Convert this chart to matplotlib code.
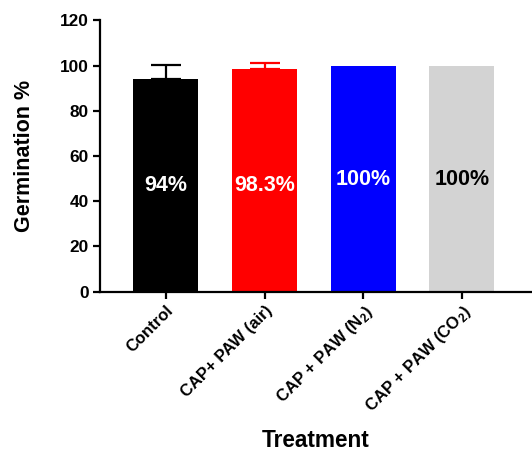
import matplotlib
matplotlib.use('Agg')
import matplotlib.pyplot as plt

plt.rcParams['font.family'] = ['Liberation Sans', 'DejaVu Sans']
plt.rcParams['font.weight'] = 'bold'
plt.rcParams['mathtext.fontset'] = 'custom'
plt.rcParams['mathtext.rm'] = 'Liberation Sans'
plt.rcParams['mathtext.it'] = 'Liberation Sans:italic'
plt.rcParams['mathtext.bf'] = 'Liberation Sans:bold'

treatments = ['Control', 'CAP+ PAW (air)', r'CAP + PAW (N$_2$)', r'CAP + PAW (CO$_2$)']
germination = [94.0, 98.3, 100.0, 100.0]
error_up = [6.5, 3.0, 0.0, 0.0]
bar_labels = ['94%', '98.3%', '100%', '100%']
bar_colors = ['#000000', '#ff0000', '#0000ff', '#d3d3d3']
text_colors = ['white', 'white', 'white', 'black']
label_y = [47, 47, 49.5, 49.5]

fig = plt.figure(figsize=(5.32, 4.54), dpi=100)
ax = fig.add_axes([0.188, 0.3575, 0.812, 0.5975])

x = list(range(len(treatments)))
ax.bar(x, germination, width=0.66, color=bar_colors, zorder=2)
for i in x:
    if error_up[i] > 0:
        ax.errorbar(i, germination[i], yerr=[[0], [error_up[i]]], fmt='none',
                    ecolor=bar_colors[i], elinewidth=1.6, capsize=11, capthick=1.6, zorder=1)
    ax.text(i, label_y[i], bar_labels[i], ha='center', va='center',
            color=text_colors[i], fontsize=15.5, fontweight='bold', zorder=3)

ax.set_xlim(-0.667, 3.711)
ax.set_ylim(0, 120)
ax.set_yticks([0, 20, 40, 60, 80, 100, 120])
ax.set_xticks(x)
ax.set_xticklabels(treatments, rotation=45, ha='right', rotation_mode='anchor',
                   fontsize=12, fontweight='bold')
for lbl in ax.get_yticklabels():
    lbl.set_fontsize(12.4)
    lbl.set_fontweight('bold')

ax.spines['top'].set_visible(False)
ax.spines['right'].set_visible(False)
ax.spines['left'].set_linewidth(1.6)
ax.spines['bottom'].set_linewidth(1.6)
ax.tick_params(axis='both', direction='out', length=5, width=1.6, pad=3)

ax.set_ylabel('Germination %', fontsize=15.5, fontweight='bold', labelpad=18)
ax.set_xlabel('Treatment', fontsize=16.3, fontweight='bold', labelpad=9)

plt.savefig('out.png', dpi=100)
